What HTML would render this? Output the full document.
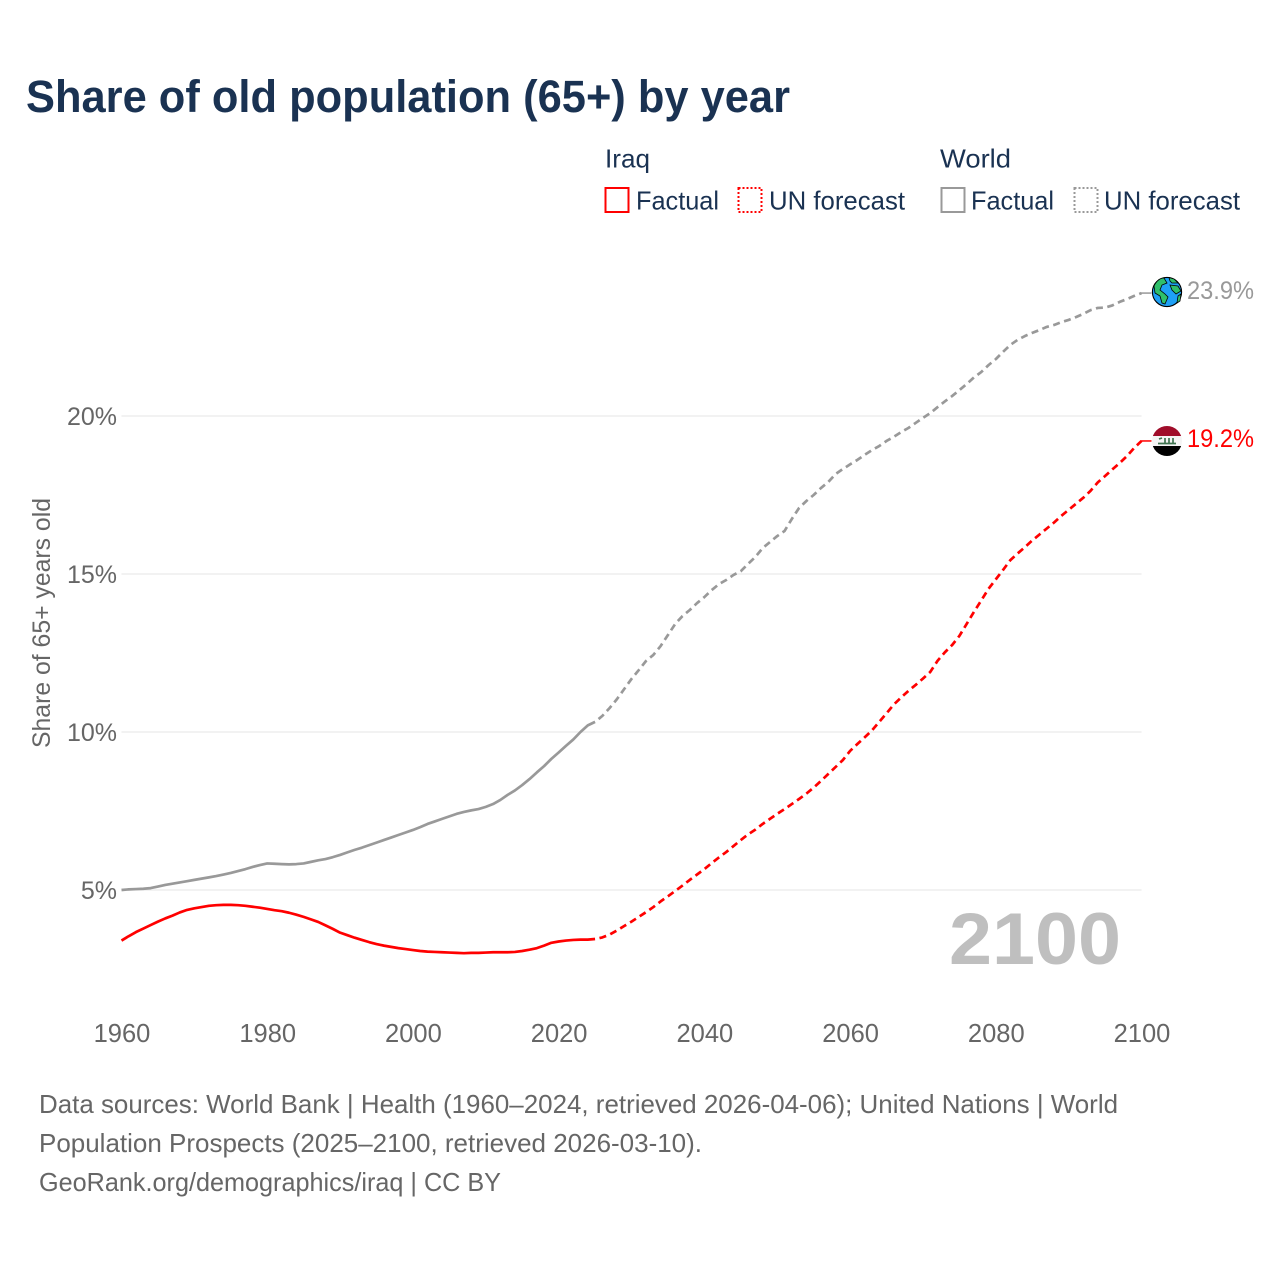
<!DOCTYPE html>
<html lang="en">
<head>
<meta charset="utf-8">
<title>Share of old population (65+) by year</title>
<style>
  html, body { margin: 0; padding: 0; background: #fff; }
  svg { display: block; }
  text { font-family: "Liberation Sans", sans-serif; }
</style>
</head>
<body>
<svg id="chart" xmlns="http://www.w3.org/2000/svg" width="1280" height="1280" viewBox="0 0 1280 1280">
  <rect width="1280" height="1280" fill="#ffffff"/>
  <text x="26" y="112" font-size="45" font-weight="700" fill="#1a3252" textLength="764" lengthAdjust="spacingAndGlyphs">Share of old population (65+) by year</text>

  <g font-size="26" fill="#1a3252">
    <text x="605" y="167.5" textLength="45" lengthAdjust="spacingAndGlyphs">Iraq</text>
    <text x="940" y="167.5" textLength="71" lengthAdjust="spacingAndGlyphs">World</text>
    <rect x="605.5" y="188" width="23" height="24" fill="none" stroke="#ff0000" stroke-width="2"/>
    <text x="636" y="209.5" textLength="83" lengthAdjust="spacingAndGlyphs">Factual</text>
    <rect x="738.5" y="188" width="23" height="24" fill="none" stroke="#ff0000" stroke-width="2" stroke-dasharray="2 2"/>
    <text x="769" y="209.5" textLength="136" lengthAdjust="spacingAndGlyphs">UN forecast</text>
    <rect x="941.5" y="188" width="23" height="24" fill="none" stroke="#999999" stroke-width="2"/>
    <text x="971" y="209.5" textLength="83" lengthAdjust="spacingAndGlyphs">Factual</text>
    <rect x="1074.5" y="188" width="23" height="24" fill="none" stroke="#999999" stroke-width="2" stroke-dasharray="2 2"/>
    <text x="1104" y="209.5" textLength="136" lengthAdjust="spacingAndGlyphs">UN forecast</text>
  </g>

  <g id="grid"></g>
  <g id="yticks" font-size="25" fill="#666666" text-anchor="end"></g>
  <g id="xticks" font-size="25.5" fill="#666666" text-anchor="middle"></g>
  <text transform="translate(50 623) rotate(-90)" font-size="25" fill="#666666" text-anchor="middle" textLength="250" lengthAdjust="spacingAndGlyphs">Share of 65+ years old</text>
  <text x="949" y="964" font-size="73" font-weight="700" fill="#bfbfbf" textLength="172" lengthAdjust="spacingAndGlyphs">2100</text>

  <g id="series"></g>
  <g id="endlabels" font-size="25"></g>

  <g>
    <circle cx="1167" cy="292" r="14.6" fill="#1ea0f5" stroke="#000" stroke-width="1.1"/>
    <path d="M1154 286 C1157 280 1161 278 1164 278 L1167 283 L1162 285 L1160 290 L1165 294 L1168 297 L1165 304 L1162 303 L1160 296 L1155 293 Z" fill="#2fbf6a" stroke="#000" stroke-width="0.8"/>
    <path d="M1169 277.5 L1174 279 L1178 283 L1172 283 L1170 281 Z" fill="#2fbf6a" stroke="#000" stroke-width="0.8"/>
    <path d="M1170 285 L1178 286 L1181 291 L1176 294 L1172 290 Z" fill="#2fbf6a" stroke="#000" stroke-width="0.8"/>
    <path d="M1178 296 L1181 294 L1180 301 L1177 303 Z" fill="#2fbf6a" stroke="#000" stroke-width="0.8"/>
  </g>

  <g>
    <clipPath id="flagClip"><circle cx="1167" cy="441" r="15"/></clipPath>
    <g clip-path="url(#flagClip)">
      <rect x="1152" y="426" width="30" height="10" fill="#a00d2a"/>
      <rect x="1152" y="436" width="30" height="10" fill="#f4f4f4"/>
      <rect x="1152" y="446" width="30" height="10" fill="#000000"/>
      <path d="M1158 443.5 H1176 M1159 439 L1162 438 M1165 438 V443.5 M1169 438 V443.5 M1173 438 V443.5" stroke="#3f7350" stroke-width="1.7" fill="none"/>
    </g>
  </g>

  <g font-size="26" fill="#666666">
    <text x="39" y="1113" textLength="1079" lengthAdjust="spacingAndGlyphs">Data sources: World Bank | Health (1960–2024, retrieved 2026-04-06); United Nations | World</text>
    <text x="39" y="1152" textLength="663" lengthAdjust="spacingAndGlyphs">Population Prospects (2025–2100, retrieved 2026-03-10).</text>
    <text x="39" y="1191" textLength="462" lengthAdjust="spacingAndGlyphs">GeoRank.org/demographics/iraq | CC BY</text>
  </g>
</svg>
<script>
const xTickYears = [1960, 1980, 2000, 2020, 2040, 2060, 2080, 2100];
const yTickValues = [5, 10, 15, 20];
const yTickLabels = ['5%', '10%', '15%', '20%'];
const factualStartYear = 1960;
const forecastStartYear = 2025;

const worldFactual = [5.0,5.02,5.03,5.04,5.06,5.11,5.16,5.2,5.24,5.28,5.32,5.36,5.4,5.44,5.49,5.54,5.6,5.66,5.73,5.79,5.84,5.83,5.82,5.81,5.82,5.84,5.89,5.94,5.98,6.04,6.11,6.19,6.27,6.34,6.42,6.5,6.58,6.66,6.74,6.82,6.9,6.99,7.09,7.17,7.25,7.33,7.41,7.47,7.52,7.56,7.63,7.72,7.85,8.01,8.15,8.32,8.51,8.72,8.92,9.15,9.35,9.56,9.76,10.0,10.21,10.32];
const worldForecast = [10.32,10.51,10.76,11.04,11.36,11.68,11.96,12.25,12.44,12.72,13.07,13.42,13.67,13.86,14.08,14.27,14.49,14.68,14.81,14.97,15.09,15.32,15.54,15.82,16.01,16.2,16.36,16.74,17.09,17.31,17.5,17.72,17.91,18.16,18.32,18.47,18.61,18.77,18.92,19.05,19.21,19.34,19.49,19.62,19.78,19.94,20.09,20.28,20.46,20.63,20.82,21.01,21.22,21.39,21.61,21.8,22.03,22.25,22.41,22.53,22.63,22.72,22.82,22.88,22.97,23.04,23.13,23.23,23.35,23.42,23.43,23.5,23.61,23.7,23.8,23.89];
const iraqFactual = [3.4,3.54,3.67,3.78,3.89,4.0,4.1,4.19,4.29,4.37,4.42,4.46,4.5,4.52,4.53,4.53,4.52,4.5,4.47,4.44,4.4,4.36,4.33,4.28,4.22,4.15,4.07,3.99,3.88,3.77,3.65,3.57,3.49,3.42,3.35,3.29,3.24,3.2,3.16,3.13,3.1,3.07,3.05,3.04,3.03,3.02,3.01,3.0,3.01,3.01,3.02,3.03,3.03,3.03,3.04,3.07,3.11,3.16,3.24,3.33,3.37,3.4,3.42,3.43,3.43,3.45];
const iraqForecast = [3.45,3.5,3.59,3.72,3.86,4.0,4.15,4.3,4.46,4.64,4.8,4.97,5.14,5.32,5.49,5.66,5.85,6.03,6.2,6.39,6.58,6.76,6.91,7.09,7.25,7.41,7.56,7.72,7.88,8.05,8.24,8.45,8.67,8.89,9.11,9.4,9.62,9.83,10.05,10.32,10.59,10.87,11.09,11.3,11.49,11.69,11.9,12.25,12.52,12.75,13.04,13.42,13.8,14.16,14.53,14.83,15.13,15.44,15.65,15.85,16.06,16.25,16.44,16.63,16.84,17.03,17.22,17.41,17.63,17.9,18.1,18.31,18.51,18.73,18.99,19.21];

const NS = 'http://www.w3.org/2000/svg';
const xScale = year => 121.5 + (year - 1960) * (1141.5 - 121.5) / 140;
const yScale = value => 890 - (value - 5) * 31.6;

function linePath(values, startYear) {
  return values.map((v, i) => (i ? 'L' : 'M') + xScale(startYear + i).toFixed(2) + ' ' + yScale(v).toFixed(2)).join(' ');
}

const grid = document.getElementById('grid');
yTickValues.forEach(v => {
  const l = document.createElementNS(NS, 'line');
  
  
  l.setAttribute('x1', xScale(1960));
  l.setAttribute('x2', xScale(2100));
  l.setAttribute('y1', yScale(v));
  l.setAttribute('y2', yScale(v));
  l.setAttribute('stroke', '#eaeaea');
  l.setAttribute('stroke-width', '1.2');
  grid.appendChild(l);
});

const yticks = document.getElementById('yticks');
yTickValues.forEach((v, i) => {
  const t = document.createElementNS(NS, 'text');
  
  
  t.setAttribute('x', 117);
  t.setAttribute('y', yScale(v) + 9);
  t.textContent = yTickLabels[i];
  yticks.appendChild(t);
});

const xticks = document.getElementById('xticks');
xTickYears.forEach(y => {
  const t = document.createElementNS(NS, 'text');
  
  
  t.setAttribute('x', xScale(y) + 0.5);
  t.setAttribute('y', 1042);
  t.textContent = String(y);
  xticks.appendChild(t);
});

const seriesGroup = document.getElementById('series');
function addLine(values, startYear, color, dashed) {
  const p = document.createElementNS(NS, 'path');
  
  
  p.setAttribute('d', linePath(values, startYear));
  p.setAttribute('fill', 'none');
  p.setAttribute('stroke', color);
  p.setAttribute('stroke-width', '2.7');
  p.setAttribute('stroke-linejoin', 'round');
  if (dashed) {
    p.setAttribute('stroke-dasharray', '7 4.5');
    p.setAttribute('stroke-dashoffset', '7');
  }
  seriesGroup.appendChild(p);
}
addLine(worldFactual, factualStartYear, '#999999', false);
addLine(worldForecast, forecastStartYear, '#999999', true);
addLine(iraqFactual, factualStartYear, '#ff0000', false);
addLine(iraqForecast, forecastStartYear, '#ff0000', true);

const endLabels = document.getElementById('endlabels');
function addEnd(values, color) {
  const last = values[values.length - 1];
  const y = yScale(last);
  const l = document.createElementNS(NS, 'line');
  
  
  l.setAttribute('x1', xScale(2100) - 1);
  l.setAttribute('x2', xScale(2100) + 10);
  l.setAttribute('y1', y);
  l.setAttribute('y2', y);
  l.setAttribute('stroke', color);
  l.setAttribute('stroke-width', '1.5');
  endLabels.appendChild(l);
  const t = document.createElementNS(NS, 'text');
  
  
  t.setAttribute('x', 1187);
  t.setAttribute('y', y + 6);
  t.setAttribute('fill', color);
  t.setAttribute('textLength', '67');
  t.setAttribute('lengthAdjust', 'spacingAndGlyphs');
  t.textContent = last.toFixed(1) + '%';
  endLabels.appendChild(t);
}
addEnd(worldForecast, '#999999');
addEnd(iraqForecast, '#ff0000');
</script>
</body>
</html>
